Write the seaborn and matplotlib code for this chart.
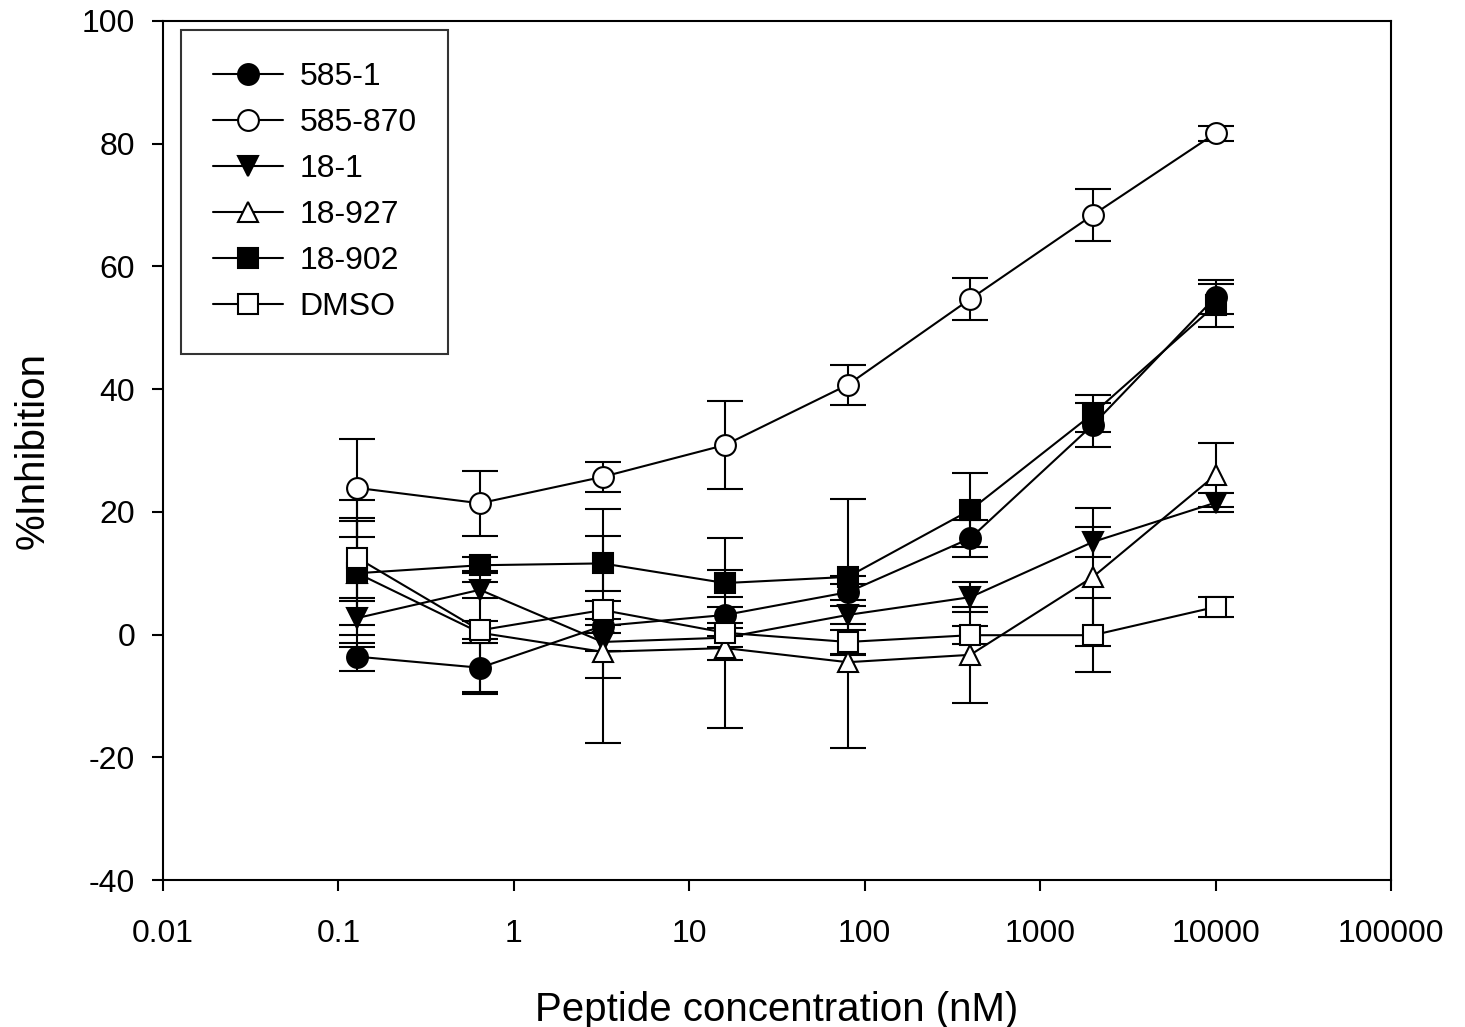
import matplotlib
matplotlib.use("Agg")
import matplotlib.pyplot as plt
import seaborn as sns
import pandas as pd

# peptide concentration (nM), 5-fold dilutions
conc = [0.128, 0.64, 3.2, 16, 80, 400, 2000, 10000]

series_names = ["585-1", "585-870", "18-1", "18-927", "18-902", "DMSO"]

inh_585_1 = [-3.6, -5.4, 1.4, 3.2, 6.9, 15.7, 34.2, 55.0]
err_585_1 = [2.3, 4.0, 19.0, 1.3, 1.3, 3.0, 3.6, 2.8]

inh_585_870 = [23.9, 21.4, 25.7, 30.9, 40.7, 54.7, 68.4, 81.7]
err_585_870 = [8.0, 5.3, 2.4, 7.2, 3.3, 3.4, 4.2, 1.2]

inh_18_1 = [2.7, 7.3, -1.2, -0.5, 3.2, 6.1, 15.1, 21.5]
err_18_1 = [2.8, 1.3, 1.5, 1.5, 1.5, 2.5, 2.4, 1.5]

inh_18_927 = [10.0, 0.3, -2.8, -2.2, -4.5, -3.3, 9.4, 26.0]
err_18_927 = [8.5, 10.0, 4.3, 2.0, 14.0, 7.8, 11.2, 5.2]

inh_18_902 = [10.0, 11.3, 11.6, 8.4, 9.4, 20.3, 36.0, 53.7]
err_18_902 = [12.0, 1.3, 4.5, 2.2, 12.7, 6.0, 3.0, 3.5]

inh_dmso = [12.5, 0.7, 4.0, 0.3, -1.2, -0.1, -0.1, 4.5]
err_dmso = [6.5, 1.5, 1.5, 15.5, 2.0, 1.5, 6.0, 1.7]

values = [inh_585_1, inh_585_870, inh_18_1, inh_18_927, inh_18_902, inh_dmso]
errors = [err_585_1, err_585_870, err_18_1, err_18_927, err_18_902, err_dmso]
markers = ["o", "o", "v", "^", "s", "s"]
faces = ["black", "white", "black", "white", "black", "white"]

sns.set_style("ticks")
plt.rcParams["font.family"] = ["Liberation Sans", "DejaVu Sans"]
plt.rcParams["axes.unicode_minus"] = False
plt.rcParams["text.color"] = "black"
plt.rcParams["axes.labelcolor"] = "black"

fig = plt.figure(figsize=(14.65, 10.27), dpi=100)
ax = fig.add_axes([0.1113, 0.1431, 0.8382, 0.8365])

for name, y, e, m, fc in zip(series_names, values, errors, markers, faces):
    df = pd.DataFrame({"conc": conc, "inh": y})
    ax.errorbar(conc, y, yerr=e, fmt="none", ecolor="black", elinewidth=1.5,
                capsize=13, capthick=1.5, zorder=2)
    sns.lineplot(data=df, x="conc", y="inh", ax=ax, color="black", linewidth=1.5,
                 marker=m, markersize=15 if m == "o" else 14, markerfacecolor=fc,
                 markeredgecolor="black", markeredgewidth=1.5, label=name,
                 zorder=3)

ax.set_xscale("log")
ax.set_xlim(0.01, 100000)
ax.set_ylim(-40, 100)
ax.set_xticks([0.01, 0.1, 1, 10, 100, 1000, 10000, 100000])
ax.set_xticklabels(["0.01", "0.1", "1", "10", "100", "1000", "10000", "100000"])
ax.minorticks_off()
ax.set_yticks(range(-40, 101, 20))
ax.tick_params(axis="both", direction="out", length=8, width=1.5, labelsize=23,
               color="black", labelcolor="black")
ax.tick_params(axis="x", pad=20)
ax.tick_params(axis="y", pad=12)
for sp in ax.spines.values():
    sp.set_visible(True)
    sp.set_linewidth(1.5)
    sp.set_color("black")

ax.set_xlabel("Peptide concentration (nM)", fontsize=29, labelpad=30)
ax.set_ylabel("%Inhibition", fontsize=29, labelpad=22)

leg = ax.legend(loc="upper left", bbox_to_anchor=(0.0147, 0.989), fontsize=23,
                frameon=True, fancybox=False, handlelength=2.2, handletextpad=0.5,
                labelspacing=0.5, borderpad=1.0, borderaxespad=0)
leg.get_frame().set_edgecolor("black")
leg.get_frame().set_linewidth(1.5)

fig.savefig("out.png", dpi=100)
